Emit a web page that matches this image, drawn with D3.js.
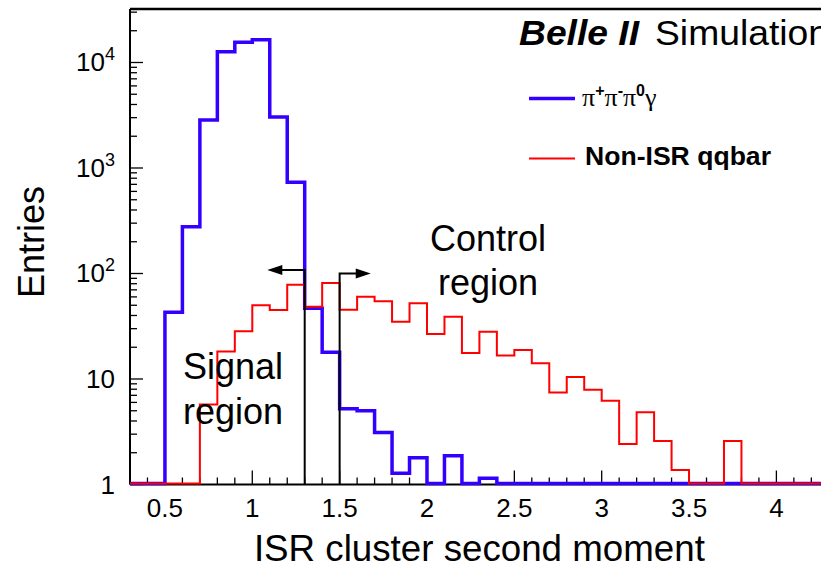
<!DOCTYPE html>
<html>
<head>
<meta charset="utf-8">
<script src="https://cdn.jsdelivr.net/npm/d3@7"></script>
<style>
  html, body { margin: 0; padding: 0; background: #fff; }
  svg { display: block; font-family: "Liberation Sans", Arial, sans-serif; }
</style>
</head>
<body>
<svg id="chart" width="821" height="570"></svg>
<script>
// bins of width 0.1 from 0.3 to 4.3
const binEdges = d3.range(0, 41).map(i => +(0.3 + i * 0.1).toFixed(1));

// pi+ pi- pi0 gamma (signal MC), entries per bin
const signalCounts = [
  0, 0, 42, 272, 2790, 12400, 15200, 16100, 2980, 716,
  45.8, 17.5, 5.1, 4.9, 3.05, 1.25, 1.75, 0, 1.83, 0,
  1.12, 0, 0, 0, 0, 0, 0, 0, 0, 0,
  0, 0, 0, 0, 0, 0, 0, 0, 0, 0
];

// non-ISR qqbar background
const bkgCounts = [
  0, 0, 0, 0, 5.6, 17.8, 27.7, 49, 44, 76.6,
  47.4, 79.5, 44.4, 59, 53.3, 34.2, 51, 26.1, 38.1, 17.3,
  27.5, 16.3, 18.4, 13.8, 7.3, 10.2, 7.75, 6.1, 2.37, 4.73,
  2.53, 1.34, 0, 0, 2.53, 0, 0, 0, 0, 0
];

const xTicks = [0.5, 1, 1.5, 2, 2.5, 3, 3.5, 4];
const yTicks = [1, 10, 100, 1000, 10000];
const yTickLabels = [["1", ""], ["10", ""], ["10", "2"], ["10", "3"], ["10", "4"]];

// region cuts: [cut value, arrow tip, line top]
const cuts = [[1.3, 1.086, 108], [1.5, 1.678, 100]];

const svg = d3.select("#chart");

const plotL = 130, plotR = 828.8, plotT = 9, plotB = 484.5;

const x = d3.scaleLinear().domain([0.3, 4.3]).range([plotL, plotR]);
const y = d3.scaleLog().domain([1, 32140]).range([plotB, plotT]);

// ---- frame + axes
const frame = svg.append("g");
frame.append("line")
  .attr("x1", plotL).attr("x2", 821).attr("y1", plotT).attr("y2", plotT)
  .attr("stroke", "#000").attr("stroke-width", 2.5);
frame.append("line")
  .attr("x1", plotL).attr("x2", plotL).attr("y1", plotT).attr("y2", plotB)
  .attr("stroke", "#000").attr("stroke-width", 2);
frame.append("line")
  .attr("x1", plotL).attr("x2", 821).attr("y1", plotB).attr("y2", plotB)
  .attr("stroke", "#000").attr("stroke-width", 2);

// x ticks (inward)
const xMinor = d3.range(3, 44).map(i => i / 10);
frame.selectAll(".xt")
  .data(xMinor)
  .enter().append("line")
    .attr("x1", d => x(d)).attr("x2", d => x(d))
    .attr("y1", plotB)
    .attr("y2", d => plotB - (Math.abs(d * 2 - Math.round(d * 2)) < 1e-6 ? 14 : 7))
    .attr("stroke", "#000").attr("stroke-width", 1.3);

frame.selectAll(".xl")
  .data(xTicks)
  .enter().append("text")
    .attr("x", d => x(d)).attr("y", 517)
    .attr("text-anchor", "middle")
    .attr("font-size", 26)
    .text(d => d);

// y ticks (inward)
const yMinor = [];
for (let k = 0; k <= 4; k++) {
  for (let m = 1; m <= 9; m++) {
    const v = m * Math.pow(10, k);
    if (v <= 32140) yMinor.push(v);
  }
}
frame.selectAll(".yt")
  .data(yMinor)
  .enter().append("line")
    .attr("x1", plotL)
    .attr("x2", d => plotL + (yTicks.includes(d) ? 13 : 7))
    .attr("y1", d => y(d)).attr("y2", d => y(d))
    .attr("stroke", "#000").attr("stroke-width", 1.3);

const yl = frame.selectAll(".yl")
  .data(yTicks)
  .enter().append("text")
    .attr("x", 115)
    .attr("y", d => y(d) + 9)
    .attr("text-anchor", "end")
    .attr("font-size", 26);
yl.append("tspan").text((d, i) => yTickLabels[i][0]);
yl.append("tspan")
  .attr("dy", -11)
  .attr("font-size", 18)
  .text((d, i) => yTickLabels[i][1]);

// axis titles
svg.append("text")
  .attr("x", (plotL + plotR) / 2).attr("y", 561)
  .attr("text-anchor", "middle")
  .attr("font-size", 36)
  .attr("textLength", 451)
  .attr("lengthAdjust", "spacingAndGlyphs")
  .text("ISR cluster second moment");

svg.append("text")
  .attr("transform", "translate(44,242) rotate(-90)")
  .attr("text-anchor", "middle")
  .attr("font-size", 36)
  .text("Entries");

// ---- histograms
function steps(counts) {
  const pts = [];
  counts.forEach((c, i) => {
    pts.push([binEdges[i], c]);
    pts.push([binEdges[i + 1], c]);
  });
  return pts;
}
const line = d3.line()
  .x(d => x(d[0]))
  .y(d => y(Math.max(d[1], 1)) - 1);

svg.append("path")
  .attr("d", line(steps(signalCounts)))
  .attr("fill", "none")
  .attr("stroke", "#3300ff")
  .attr("stroke-width", 3.5);

svg.append("path")
  .attr("d", line(steps(bkgCounts)))
  .attr("fill", "none")
  .attr("stroke", "#ff0000")
  .attr("stroke-width", 2);

// ---- cut lines with arrows
cuts.forEach(([c, tip, h]) => {
  const cx = x(c), ty = y(h), tx = x(tip);
  const dir = tx < cx ? -1 : 1;
  svg.append("path")
    .attr("d", `M${cx},${plotB}V${ty}H${tx - dir * 14}`)
    .attr("fill", "none")
    .attr("stroke", "#000")
    .attr("stroke-width", 2);
  svg.append("path")
    .attr("d", `M${tx},${ty}L${tx - dir * 15},${ty - 5}L${tx - dir * 15},${ty + 5}Z`)
    .attr("fill", "#000");
});

// ---- region labels
const sig = svg.append("text").attr("font-size", 36);
sig.append("tspan").attr("x", 183).attr("y", 379).text("Signal");
sig.append("tspan").attr("x", 183).attr("y", 424).text("region");

const ctl = svg.append("text").attr("font-size", 36).attr("text-anchor", "middle");
ctl.append("tspan").attr("x", 488).attr("y", 251).text("Control");
ctl.append("tspan").attr("x", 488).attr("y", 295).text("region");

// ---- title + legend
svg.append("text")
  .attr("x", 519).attr("y", 45)
  .attr("font-size", 35)
  .attr("font-weight", "bold").attr("font-style", "italic")
  .attr("textLength", 120).attr("lengthAdjust", "spacingAndGlyphs")
  .text("Belle II");
svg.append("text")
  .attr("x", 655).attr("y", 45)
  .attr("font-size", 35)
  .attr("textLength", 174).attr("lengthAdjust", "spacingAndGlyphs")
  .text("Simulation");

const legend = svg.append("g");
legend.append("line")
  .attr("x1", 529).attr("x2", 575).attr("y1", 98.5).attr("y2", 98.5)
  .attr("stroke", "#3300ff").attr("stroke-width", 3.5);
legend.append("line")
  .attr("x1", 529).attr("x2", 575).attr("y1", 158.5).attr("y2", 158.5)
  .attr("stroke", "#ff0000").attr("stroke-width", 2);

const pi = legend.append("text")
  .attr("x", 582).attr("y", 106)
  .attr("font-family", "'Liberation Serif', 'Times New Roman', serif")
  .attr("font-size", 26);
const sup = (t) => pi.append("tspan")
  .attr("dy", -10).attr("font-size", 16).attr("font-weight", "bold")
  .attr("font-family", "'Liberation Sans', Arial, sans-serif").text(t);
pi.append("tspan").text("π");
sup("+");
pi.append("tspan").attr("dy", 10).text("π");
sup("-");
pi.append("tspan").attr("dy", 10).text("π");
sup("0");
pi.append("tspan").attr("dy", 10).text("γ");

legend.append("text")
  .attr("x", 585).attr("y", 165)
  .attr("font-size", 25).attr("font-weight", "bold")
  .attr("textLength", 186).attr("lengthAdjust", "spacingAndGlyphs")
  .text("Non-ISR qqbar");
</script>
</body>
</html>
